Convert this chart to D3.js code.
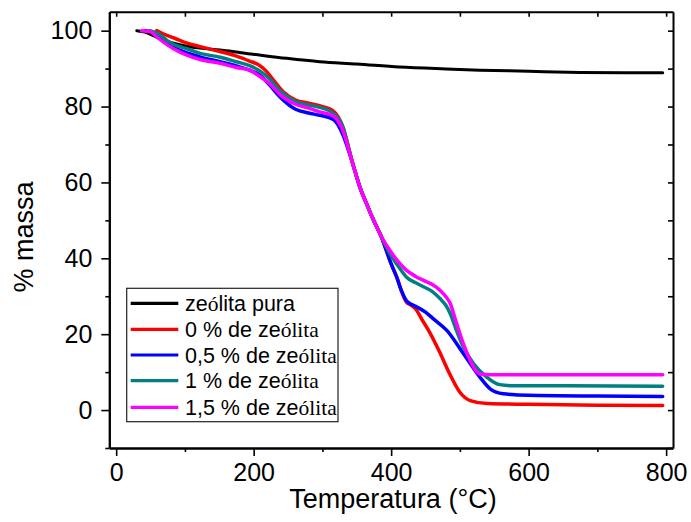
<!DOCTYPE html>
<html><head><meta charset="utf-8">
<script src="https://cdn.jsdelivr.net/npm/d3@7"></script>
<style>body{margin:0;background:#fff}svg{display:block}</style>
</head><body>
<svg id="chart" width="691" height="522"></svg>
<script>
// ---- data ----
const seriesNames = ["zeólita pura", "0 % de zeólita", "0,5 % de zeólita", "1 % de zeólita", "1,5 % de zeólita"];
const seriesColors = ["#000000", "#ff0000", "#0000ff", "#008080", "#ff00ff"];

const tempPura = [30, 42, 55, 68, 85, 102, 122, 151, 199, 248, 296, 350, 412, 480, 529, 600, 675, 740, 795];
const massPura = [100, 99.6, 98.6, 97.5, 96.6, 95.9, 95.4, 94.9, 93.8, 92.7, 91.8, 91.2, 90.4, 89.9, 89.6, 89.3, 89.0, 88.9, 88.9];

const temp0 = [59, 70, 85, 102, 122, 151, 175, 194, 207, 218, 230, 243, 261, 280, 296, 316, 330, 340, 347, 355, 364, 372, 379, 385, 393, 400, 408, 415, 422, 430, 437, 444, 456, 470, 485, 500, 515, 540, 600, 700, 795];
const mass0 = [100, 99, 98, 96.8, 95.8, 94.5, 93.3, 92.0, 91.0, 89.4, 86.7, 83.9, 81.7, 80.9, 80.2, 78.8, 74.5, 67.8, 63.2, 58.5, 54.5, 51, 48.3, 46, 42.1, 38.5, 35.1, 31.3, 28.5, 27.5, 26.3, 24.1, 20.5, 15.5, 9.6, 4.7, 2.5, 1.7, 1.5, 1.3, 1.2];

const temp05 = [42, 55, 70, 85, 102, 122, 151, 175, 194, 209, 223, 238, 261, 280, 296, 316, 330, 340, 347, 355, 364, 372, 379, 385, 393, 400, 408, 415, 422, 430, 437, 450, 461, 481, 505, 529, 544, 563, 600, 700, 795];
const mass05 = [100, 99.5, 97.5, 95.5, 94.2, 93.1, 91.8, 90.7, 89.6, 88.3, 85.7, 82.6, 79.3, 78.3, 77.7, 76.6, 72.5, 67.3, 63.2, 58.5, 54.5, 51, 48.3, 46, 42.1, 38.5, 35.1, 31.5, 28.9, 27.8, 27.2, 25.8, 24.1, 21.0, 14.9, 8.7, 5.6, 4.3, 3.9, 3.7, 3.6];

const temp1 = [49, 60, 75, 90, 102, 122, 151, 175, 194, 209, 223, 238, 261, 280, 296, 316, 330, 340, 347, 355, 364, 372, 379, 385, 392, 398, 410, 422, 435, 447, 460, 471, 480, 486, 495, 505, 520, 539, 558, 580, 650, 795];
const mass1 = [100, 99.3, 97.3, 95.9, 95.3, 94.0, 93.0, 91.8, 90.8, 89.4, 87.3, 84.2, 81.3, 80.4, 79.8, 78.2, 74.5, 67.8, 63.2, 58.5, 54.5, 51, 48.3, 46, 43.3, 41.3, 38, 35.1, 33.6, 32.5, 31.2, 29.4, 27.5, 25.4, 21, 16.6, 12.2, 8.7, 6.7, 6.4, 6.4, 6.3];

const temp15 = [37, 50, 60, 75, 90, 102, 122, 151, 175, 194, 209, 223, 238, 261, 280, 296, 316, 330, 340, 347, 355, 364, 372, 379, 385, 392, 398, 410, 422, 435, 447, 460, 471, 480, 486, 493, 505, 520, 529, 545, 600, 795];
const mass15 = [100, 99.7, 98.2, 96.2, 94.6, 93.6, 92.4, 91.4, 90.3, 89.6, 87.9, 86.1, 83.2, 80.6, 79.6, 78.6, 77.5, 73.5, 67.5, 63.2, 58.5, 54.5, 51, 48.3, 46, 43.8, 42.1, 39.2, 36.9, 35.3, 34.2, 33.1, 31.6, 29.8, 28.1, 24.1, 17.5, 11.3, 9.5, 9.3, 9.3, 9.3];

const xMajorTicks = [0, 200, 400, 600, 800];
const xMinorTicks = [100, 300, 500, 700];
const yMajorTicks = [0, 20, 40, 60, 80, 100];
const yMinorTicks = [-10, 10, 30, 50, 70, 90];

const temps = [tempPura, temp0, temp05, temp1, temp15];
const masses = [massPura, mass0, mass05, mass1, mass15];

// ---- layout ----
const W = 691, H = 522;
const m = {left: 109.3, right: 18, top: 11.7, bottom: 74};
const svg = d3.select("#chart");
const iw = W - m.left - m.right, ih = H - m.top - m.bottom;
const x = d3.scaleLinear().domain([-10, 810]).range([m.left, m.left + iw]);
const y = d3.scaleLinear().domain([-10, 105]).range([m.top + ih, m.top]);

const font = "Arial, 'Liberation Sans', sans-serif";

// curves
const line = d3.line().x(d => x(d[0])).y(d => y(d[1])).curve(d3.curveMonotoneX);
const plot = svg.append("g");
temps.forEach((t, i) => {
  const pts = t.map((v, j) => [v, masses[i][j]]);
  plot.append("path").datum(pts)
    .attr("d", line).attr("fill", "none")
    .attr("stroke", seriesColors[i])
    .attr("stroke-width", i === 0 ? 3 : 3.5)
    .attr("stroke-linejoin", "round").attr("stroke-linecap", "round");
});

// axes
function styleAxis(g) {
  g.select(".domain").attr("stroke", "#000").attr("stroke-width", 2);
  g.selectAll(".tick line").attr("stroke", "#000").attr("stroke-width", 1.6);
  g.selectAll(".tick text").attr("font-family", font).attr("font-size", 25).attr("fill", "#000");
}
const gB = svg.append("g").attr("transform", `translate(0,${m.top + ih})`)
  .call(d3.axisBottom(x).tickValues(xMajorTicks).tickSize(8).tickSizeOuter(0).tickPadding(7).tickFormat(d3.format("d")));
styleAxis(gB);
const gBm = svg.append("g").attr("transform", `translate(0,${m.top + ih})`)
  .call(d3.axisBottom(x).tickValues(xMinorTicks).tickSize(4).tickSizeOuter(0).tickFormat(""));
styleAxis(gBm);

const gL = svg.append("g").attr("transform", `translate(${m.left},0)`)
  .call(d3.axisLeft(y).tickValues(yMajorTicks).tickSize(8).tickSizeOuter(0).tickPadding(9).tickFormat(d3.format("d")));
styleAxis(gL);
const gLm = svg.append("g").attr("transform", `translate(${m.left},0)`)
  .call(d3.axisLeft(y).tickValues(yMinorTicks).tickSize(4).tickSizeOuter(0).tickFormat(""));
styleAxis(gLm);

const gT = svg.append("g").attr("transform", `translate(0,${m.top})`)
  .call(d3.axisBottom(x).tickValues(xMajorTicks.concat(xMinorTicks)).tickSize(5).tickSizeOuter(0).tickFormat(""));
styleAxis(gT);
const gR = svg.append("g").attr("transform", `translate(${m.left + iw},0)`)
  .call(d3.axisLeft(y).tickValues(yMajorTicks.concat(yMinorTicks)).tickSize(5).tickSizeOuter(0).tickFormat(""));
styleAxis(gR);

// axis titles
svg.append("text").attr("x", 393).attr("y", 508).attr("text-anchor", "middle")
  .attr("font-family", font).attr("font-size", 27).text("Temperatura (°C)");
svg.append("text").attr("transform", "translate(33,237) rotate(-90)").attr("text-anchor", "middle")
  .attr("font-family", font).attr("font-size", 27).text("% massa");

// legend
const lg = svg.append("g");
lg.append("rect").attr("x", 126.7).attr("y", 288.3).attr("width", 211.3).attr("height", 133.4)
  .attr("fill", "#fff").attr("stroke", "#222").attr("stroke-width", 1.2);
const rowY = [303.3, 329.3, 355, 380.7, 407.3];
const serif = "'Times New Roman', 'Liberation Serif', serif";
seriesNames.forEach((name, i) => {
  lg.append("line").attr("x1", 130.7).attr("x2", 178.3).attr("y1", rowY[i]).attr("y2", rowY[i])
    .attr("stroke", seriesColors[i]).attr("stroke-width", 3.2);
  const t = lg.append("text").attr("x", 185).attr("y", rowY[i] + 7.5)
    .attr("font-family", font).attr("font-size", 21.5);
  const k = name.indexOf("ó");
  t.append("tspan").text(name.slice(0, k));
  if (i === 0) {
    t.append("tspan").attr("font-family", serif).text("ó");
    t.append("tspan").text(name.slice(k + 1));
  } else {
    t.append("tspan").attr("font-family", serif).text(name.slice(k));
  }
});
</script>
</body></html>
